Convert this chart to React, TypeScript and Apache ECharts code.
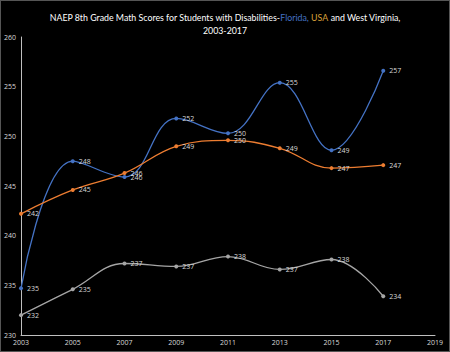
import React, { useEffect, useRef } from "react";
import * as echarts from "echarts";

const years = [2003, 2005, 2007, 2009, 2011, 2013, 2015, 2017];
const florida = [234.7, 247.5, 245.9, 251.8, 250.3, 255.4, 248.6, 256.6];
const usa = [242.2, 244.6, 246.3, 249.0, 249.6, 248.8, 246.8, 247.1];
const westVirginia = [232.0, 234.6, 237.2, 236.9, 237.9, 236.6, 237.6, 233.9];
const xTicks = [2003, 2005, 2007, 2009, 2011, 2013, 2015, 2017, 2019];
const yTicks = [230, 235, 240, 245, 250, 255, 260];

const BLUE = "#4472C4";
const ORANGE = "#ED7D31";
const GRAY = "#A5A5A5";
const TF = "Lato";
const TS = 8.8;

export default function App() {
  const ref = useRef<HTMLDivElement>(null);
  useEffect(() => {
    document.body.style.margin = "0";
    const chart = echarts.init(ref.current!, null, { renderer: "svg" });
    const mk = (name: string, vals: number[], color: string) => ({
      name,
      type: "line",
      smooth: 0.4,
      data: years.map((y, i) => [y, vals[i]]),
      symbol: "circle",
      symbolSize: 4,
      lineStyle: { color, width: 1.3 },
      itemStyle: { color },
      label: {
        show: true,
        position: "right",
        distance: 4,
        color: "#d9d9d9",
        fontSize: 7,
        fontFamily: "Open Sans",
        formatter: (p: any) => String(Math.round(p.value[1])),
      },
    });
    chart.setOption({
      animation: false,
      backgroundColor: "#000",
      title: {
        left: "center",
        top: 5,
        text:
          "NAEP 8th Grade Math Scores for Students with Disabilities-{b|Florida,} {o|USA} and West Virginia,\n{c|2003-2017}",
        textStyle: {
          color: "#fff",
          fontSize: TS,
          fontWeight: "normal",
          fontFamily: TF,
          lineHeight: 13,
          align: "center",
          rich: {
            b: { color: BLUE, fontSize: TS, fontFamily: TF },
            o: { color: "#D9A23A", fontSize: TS, fontFamily: TF },
            c: { color: "#fff", fontSize: TS, fontFamily: TF, align: "center" },
          },
        },
      },
      grid: { left: 20, right: 14, top: 36, bottom: 16, containLabel: false },
      xAxis: {
        type: "value",
        min: xTicks[0],
        max: xTicks[xTicks.length - 1],
        interval: 2,
        axisLine: { show: true, lineStyle: { color: "#bfbfbf", width: 1 } },
        axisTick: { show: false },
        splitLine: { show: false },
        axisLabel: {
          color: "#d9d9d9",
          fontSize: 7,
          fontFamily: "Open Sans",
          margin: 4,
          formatter: (v: number) => String(v),
        },
      },
      yAxis: {
        type: "value",
        min: yTicks[0],
        max: yTicks[yTicks.length - 1],
        interval: 5,
        axisLine: { show: true, lineStyle: { color: "#bfbfbf", width: 1 } },
        axisTick: { show: false },
        splitLine: { show: false },
        axisLabel: {
          color: "#d9d9d9",
          fontSize: 7,
          fontFamily: "Open Sans",
          margin: 5,
        },
      },
      series: [
        mk("Florida", florida, BLUE),
        mk("USA", usa, ORANGE),
        mk("West Virginia", westVirginia, GRAY),
      ],
    });
    return () => chart.dispose();
  }, []);
  return (
    <div
      ref={ref}
      style={{
        width: 450,
        height: 352,
        boxSizing: "border-box",
        border: "1px solid #555",
        background: "#000",
      }}
    />
  );
}
